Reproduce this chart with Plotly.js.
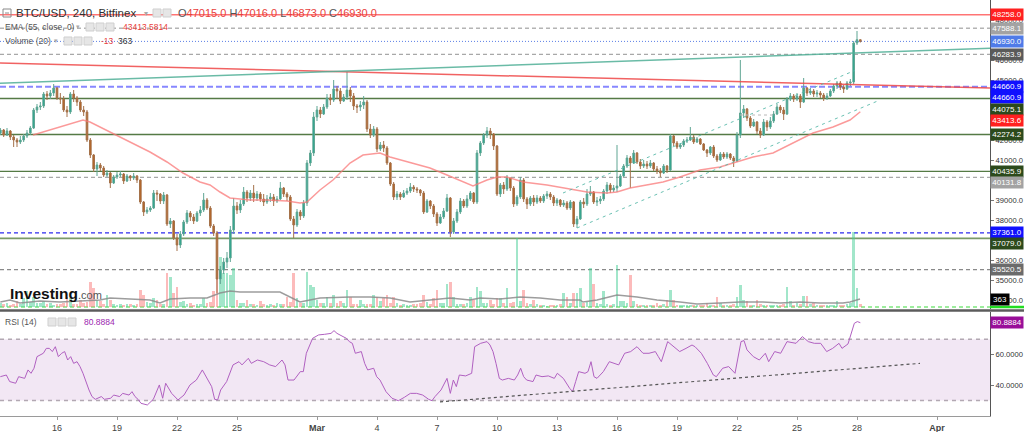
<!DOCTYPE html>
<html>
<head>
<meta charset="utf-8">
<script src="https://cdn.plot.ly/plotly-3.0.1.min.js"></script>
<style>
html,body{margin:0;padding:0;background:#ffffff;overflow:hidden;}
#chart{width:1024px;height:432px;}
</style>
</head>
<body>
<div id="chart"></div>
<script>
// ================= DATA =================
const startUTC = Date.UTC(2022, 1, 13, 4, 0, 0); // first 4h candle: 13 Feb 2022 04:00
const firstOpen = 42350;
const closes = [
 42500,42250,42450,42150,42000,
 41900,42000,42200,42350,42600,43500,
 43650,43700,44300,44200,44350,44600,
 44100,44050,43500,43400,44300,44100,
 43900,43500,43400,42000,41250,40550,
 40750,40600,40250,40350,39850,40150,
 40250,40300,39950,40200,40100,40200,
 40000,38900,38400,38500,38600,39350,
 39300,38950,39250,37800,37950,37100,
 36750,37300,37900,38350,38150,37950,
 38350,38500,39000,38600,37700,37350,
 35050,35500,35900,36100,37500,38700,
 38500,38800,39400,39100,39350,39100,
 39300,39050,38900,39050,39150,38950,
 39050,39600,39300,39150,38050,37750,
 38400,38200,38850,40850,41350,43150,
 43500,43300,43650,44100,44000,44550,
 44450,43950,44150,44500,44200,43700,
 43650,43750,43900,42550,42250,42550,
 41550,41750,41600,40850,39800,39150,
 39300,39150,39350,39450,39650,39550,
 39500,39350,38400,38950,38700,38300,
 37850,38150,38450,39100,37400,37950,
 38400,38950,38700,39050,39350,38900,
 41350,41850,42250,42450,42300,41700,
 39300,39750,39550,40100,39600,38800,
 39150,40000,39050,38800,39100,38900,
 39100,38950,39200,39300,39150,38850,
 39000,38750,38850,38600,38900,37800,
 38050,38900,38800,39300,39400,38900,
 38950,39050,39450,39750,39500,39600,
 39700,40200,40700,41100,40850,41350,
 40900,40700,40800,40700,40850,40550,
 40450,40350,40700,40500,42200,41850,
 41650,41750,41950,42000,42150,41900,
 42050,41800,41500,41350,41650,41200,
 41000,41300,41150,41300,41100,40950,
 42250,43350,43550,43100,42700,42900,
 42450,42250,42900,42650,42950,43300,
 43650,43500,43300,44050,44200,44050,
 44200,43900,44600,44350,44450,44300,
 44350,44250,44100,44200,44450,44700,
 44850,44650,44550,44850,44900,46850,
 47015,46930
];
const highs = [
 42600,42550,42600,42500,42250,
 42100,42200,42300,42500,42700,43600,
 43800,43900,44400,44450,44500,44800,
 44650,44350,44200,43700,44400,44500,
 44200,44000,43700,43500,42100,41300,
 40900,40850,40700,40500,40400,40250,
 40400,40450,40350,40300,40250,40350,
 40250,40050,38950,38650,38700,39500,
 39500,39350,39400,39300,38100,38000,
 37300,37450,38000,38500,38450,38300,
 38450,38700,39350,39100,38700,37800,
 37450,35700,36100,36400,37700,39100,
 38900,39000,39650,39500,39500,39750,
 39450,39400,39300,39250,39350,39300,
 39200,39900,39650,39400,39250,38200,
 38550,38500,39000,41000,41500,43400,
 43700,43650,43800,44300,44300,45000,
 44700,44600,44300,45400,44650,44350,
 43800,43950,44200,44000,42800,42700,
 42650,41900,41950,41700,40900,39900,
 39450,39400,39500,39600,39850,39750,
 39650,39550,39450,39050,39000,38800,
 38400,38300,38600,39300,39150,38100,
 38550,39100,39050,39250,39450,39400,
 41500,41950,42350,42650,42600,42350,
 41750,39850,39900,40250,40100,39700,
 39250,40150,40100,39150,39200,39250,
 39250,39200,39300,39450,39400,39250,
 39100,39050,39000,38950,39000,38950,
 38200,39000,39100,39550,39700,39450,
 39150,39200,39550,39900,39850,39750,
 41750,40300,40800,41250,41200,41500,
 41400,41050,41000,40950,41000,40900,
 40700,40600,40800,40750,42300,42250,
 41950,41850,42050,42150,42650,42250,
 42150,42100,41850,41550,41700,41750,
 41300,41400,41400,41400,41350,41200,
 42400,46000,43750,43600,43200,43050,
 42950,42600,43050,43000,43150,43450,
 43800,43750,43650,44150,44350,44300,
 44350,44300,45100,44650,44600,44550,
 44500,44450,44350,44350,44550,44800,
 44950,44950,44750,44950,45050,46950,
 47450,47016
];
const lows = [
 42250,42150,42200,42000,41650,
 41650,41800,41900,42100,42250,42550,
 43350,43500,43600,44000,44050,44200,
 44000,43800,43400,43150,43300,43900,
 43700,43400,43200,41900,41100,40400,
 40200,40450,40150,40150,39600,39800,
 40050,40150,39800,39900,39950,40000,
 39850,38800,38200,38300,38400,38550,
 38950,38800,38800,37700,37600,37000,
 36450,36600,37200,37800,37950,37800,
 37900,38200,38400,38500,37600,37200,
 34350,34800,35300,35600,35900,37300,
 38300,38350,38700,38900,38950,38900,
 38950,38900,38700,38800,38900,38700,
 38850,39000,39150,38950,37950,37100,
 37650,38000,38100,38700,40700,41200,
 42950,43100,43250,43550,43750,43900,
 44050,43800,43900,44000,43900,43500,
 43350,43450,43550,42400,42100,42150,
 41400,41450,41400,40750,39700,39000,
 39000,39000,39100,39250,39350,39400,
 39350,39200,38300,38350,38550,38150,
 37700,37800,38050,38400,37150,37300,
 37850,38300,38600,38600,38950,38800,
 38800,41200,41750,42100,42050,41500,
 39200,39150,39300,39450,39450,38650,
 38700,39050,38900,38550,38700,38700,
 38800,38850,38850,39050,39000,38700,
 38700,38650,38650,38500,38500,37650,
 37600,38000,38600,38700,39200,38800,
 38700,38800,38950,39300,39350,39400,
 39400,39650,40150,40600,39600,40800,
 40800,40550,40600,40550,40600,40450,
 40300,40150,40300,40350,40450,41700,
 41550,41550,41650,41850,41950,41800,
 41850,41750,41450,41150,41250,41100,
 40900,40950,41050,41050,41000,40650,
 40900,42100,43100,42950,42600,42650,
 42300,42100,42200,42450,42550,42850,
 43250,43350,43000,43250,43950,43900,
 43950,43600,43850,44200,44250,44150,
 44150,44100,43950,44000,44150,44350,
 44550,44500,44350,44500,44700,44800,
 46750,46873
];
const volumes = [
 450,360,450,300,390,690,420,1080,1890,600,
 1200,540,450,690,360,450,300,390,330,480,
 1200,1080,420,360,840,510,600,3030,2250,900,
 690,420,1440,840,360,300,330,270,390,360,
 300,330,2040,1440,600,450,1080,840,420,360,
 4050,3600,1650,2400,600,690,390,450,300,360,
 420,1080,480,600,1890,4410,6000,4050,4050,3840,
 4650,900,540,480,840,390,360,300,690,330,
 270,360,300,450,330,390,1200,600,4050,1080,
 540,480,4200,2610,2400,840,510,450,1200,540,
 1440,480,690,450,2040,1200,390,360,840,330,
 390,360,1440,1200,690,1080,1440,540,1200,450,
 300,330,270,300,360,330,450,1440,600,420,
 1080,2040,540,480,2790,3030,1200,420,360,390,
 450,1200,840,2400,1890,540,450,840,390,1080,
 1080,450,2250,450,600,8250,690,2040,480,360,
 840,330,270,300,150,240,270,300,360,1650,
 1200,450,1650,1650,2250,480,600,4650,2790,450,
 390,1890,360,300,420,5040,690,690,480,3840,
 690,360,300,270,240,300,270,450,300,330,
 840,2040,840,300,270,240,270,300,240,270,
 240,300,450,240,300,1200,540,270,300,240,
 330,1200,2640,840,690,300,270,840,330,240,
 270,300,240,270,300,360,2430,690,300,540,
 330,1320,1320,360,450,270,240,270,300,240,
 270,690,300,270,360,450,9030,2250,363
];
// EMA(55) (candle index, value)
const emaIdx = [9.8,14.9,20,24.8,26.9,29.9,35,39.8,44.9,50,54.8,59.9,62.9,65.9,68.9,74.9,80,86,89.9,92,95.9,99.8,101.9,104.9,108.8,113.9,116.9,123.8,128.9,134,138.8,141.8,146,149,152,156.8,164,168.8,176,182,185,188.9,194,198.8,203.9,209.9,215.9,221,225.8,231.8,237.8,243.8,249.8,254.9,258];
const emaVal = [42250,42500,42750,43000,42900,42650,42250,41850,41400,40900,40350,39900,39750,39400,39100,39000,39000,38950,38850,38900,39500,40000,40350,40850,41250,41350,41150,40850,40600,40250,39900,39700,40000,40150,40150,39900,39750,39600,39400,39350,39400,39600,39750,39900,40150,40500,40650,40900,41150,41350,41850,42350,42650,43000,43413.58];
// Volume MA(20)
const volMaIdx = [0,2.9,5.9,11.9,17.9,23.9,29.9,32.9,38.9,44.9,47.9,50.9,56.9,62,65.9,68.9,71.9,77.9,83.9,86.9,89.9,92.9,95.9,104.9,110.9,116.9,122.9,128.9,134.9,140.9,143.9,149.9,155.9,161.9,167.9,173.9,174.8,179,185,191,197,203.9,209,215.9,221.9,228.8,233.9,239.9,245.9,252.8,254.9,257.9];
const volMaVal = [600,840,480,720,600,720,840,1080,960,840,480,960,1080,1080,1680,1920,1800,1800,1800,1200,600,840,1080,1200,1200,1080,600,840,1080,840,1080,960,1200,1080,840,840,600,840,1440,1200,840,600,360,480,600,600,480,600,480,480,600,960];
// RSI(14)
const rsiIdx = [0,1.8,2.8,4.6,5.5,7.3,8.3,9.2,10.1,11,12.9,13.8,14.7,15.6,16.5,17.4,18.4,19.3,20.2,21.1,22,23,23.9,24.8,26.6,27.5,28.5,30.3,31.2,33.1,34,35.8,36.7,38.6,39.5,40.4,41.3,42.2,44.1,45.9,47.7,48.7,49.6,51.4,53.3,55.1,56.9,58.8,60.6,61.5,63.4,64.3,65.2,66.1,67.9,69.8,71.6,72.5,74.4,75.3,77.1,79,80.8,82.6,84.5,85.4,86.3,88.1,90,90.9,91.8,93.7,95.5,97.3,99.2,100.1,101,102.8,103.8,104.7,105.6,106.5,108.3,109.3,110.2,112,112.9,113.9,114.8,115.7,117.5,119.4,121.2,123,124.9,126.7,128.5,129.5,130.4,132.2,134,135,135.9,136.8,137.7,139.6,141.4,142.3,144.1,146,146.9,147.8,148.7,149.7,150.6,152.4,154.2,155.2,156.1,157,157.9,159.8,160.7,162.5,164.4,166.2,167.1,168.9,170.8,171.7,172.6,173.5,175.4,176.3,177.2,178.1,179,180.9,182.7,184.5,185.5,187.3,189.1,191,192.8,194.6,196.5,197.4,198.3,200.2,202,203.8,205.7,207.5,208.4,210.3,212.1,213.9,214.8,216.7,218.5,220.4,222.2,223.1,224,225.9,227.7,229.5,230.5,232.3,234.1,236,238.7,240.6,242.4,244.2,246.1,247.9,249.7,251.6,252.5,254.3,256.2,257.1,258];
const rsiVal = [45.6,46.7,42.4,41.3,45.6,44.5,50.0,47.8,51.1,58.7,60.9,64.1,64.1,62.0,65.2,58.7,60.9,62.0,56.5,58.7,54.3,55.4,52.2,47.8,36.9,32.6,30.8,32.6,30.8,31.5,33.6,32.6,34.7,33.6,35.8,32.6,30.8,28.2,27.1,30.8,40.2,31.5,41.3,34.7,30.4,33.6,40.2,43.4,50.0,46.7,39.1,30.8,30.4,36.9,42.4,53.3,55.4,53.3,57.6,54.3,56.5,55.4,53.3,52.2,56.5,53.3,43.4,43.4,48.9,48.9,60.9,70.7,72.9,73.3,73.9,75.7,73.9,71.8,70.7,68.5,67.4,60.9,62.0,54.3,50.0,51.1,45.6,43.4,39.1,35.8,31.5,29.9,32.1,34.7,34.7,33.6,30.8,29.9,32.6,36.9,44.5,34.7,43.4,39.1,46.7,46.1,47.8,65.2,67.4,68.5,66.3,62.0,54.3,44.5,43.4,44.5,43.4,46.7,51.1,45.6,43.4,42.4,46.7,45.6,46.1,44.5,47.8,44.5,38.0,35.8,42.4,48.9,47.8,48.9,55.4,45.6,44.5,48.9,55.4,54.3,53.3,60.9,62.0,65.2,60.9,60.9,62.0,58.7,55.4,68.5,65.2,62.0,64.1,66.3,65.2,60.9,54.3,46.7,45.6,51.1,52.2,47.8,68.5,69.2,63.1,58.7,56.5,60.9,55.4,62.0,60.9,68.5,67.4,71.8,68.5,67.4,67.4,62.0,64.1,67.4,64.1,67.0,80.5,81.6,80.8884];

const xTickDates = ['2022-02-16','2022-02-19','2022-02-22','2022-02-25','2022-03-01','2022-03-04','2022-03-07','2022-03-10','2022-03-13','2022-03-16','2022-03-19','2022-03-22','2022-03-25','2022-03-28','2022-04-01'];
const xTickLabels = ['16','19','22','25','<b>Mar</b>','4','7','10','13','16','19','22','25','28','<b>Apr</b>'];
const priceTicks = [34000,35000,36000,37000,38000,39000,40000,41000,42000,43000,44000,45000,46000,47000,48000];
const rsiTicks = [40, 60];

// horizontal drawn levels
const levelPrices = [48258.0, 47588.1, 46930.0, 46283.9, 44660.9, 44075.1, 42274.2, 40435.9, 40131.8, 37361.0, 37079.0, 35520.5];
// price-scale labels
const labelPrices = [48258.0, 47588.1, 46930.0, 46283.9, 44660.9, 44660.9, 44075.1, 43413.6, 42274.2, 40435.9, 40131.8, 37361.0, 37079.0, 35520.5];
// trend lines: [candle index, price]
const lineRed = [[-0.1, 45850], [296.9, 44600]];
const lineTeal = [[-0.1, 44835], [296.9, 46590]];
const channelUpper = [[168.8, 39350], [256.4, 45480]];
const channelLower = [[173.0, 37600], [263.9, 44000]];
const shortDash = [[221.9, 43250], [231.8, 43250]];
const rsiTrend = [[131.9, 29.1], [275.9, 54.3]];

const legendOHLC = {O: '47015.0', H: '47016.0', L: '46873.0', C: '46930.0'};
const emaLegend = '43413.5814';
const volLegend = ['-13', '363'];
const rsiLegend = '80.8884';

// ================= BUILD =================
const H4 = 4 * 3600 * 1000;
function tAt(idx) {
  return new Date(startUTC + idx * H4).toISOString().replace('T', ' ').slice(0, 19);
}
const n = closes.length;
const times = [], opens = [];
for (let i = 0; i < n; i++) {
  times.push(tAt(i));
  opens.push(i === 0 ? firstOpen : closes[i - 1]);
}
const volColors = closes.map((c, i) => c >= opens[i] ? 'rgba(70,205,150,0.5)' : 'rgba(250,120,120,0.5)');

const PLOT_H = 416, PLOT_W = 990;
const MAIN_BOTTOM_PX = 309;
const mainDomain = [(PLOT_H - MAIN_BOTTOM_PX) / PLOT_H, 1];
const rsiDomain = [0, (PLOT_H - 311.5) / PLOT_H];
const priceRange = [33550, 49000];
const volRange = [-240, 36840];
const rsiRange = [19.9, 88.2];
const px = x => x / PLOT_W;
const py = y => (PLOT_H - y) / PLOT_H;

const traces = [
  { type: 'bar', x: times, y: volumes, xaxis: 'x', yaxis: 'y',
    marker: { color: volColors, line: { width: 0 } }, width: H4 * 0.8, hoverinfo: 'skip' },
  { type: 'scatter', mode: 'lines', x: volMaIdx.map(tAt), y: volMaVal, xaxis: 'x', yaxis: 'y',
    line: { color: 'rgba(140,140,140,0.85)', width: 1.5 }, hoverinfo: 'skip' },
  { type: 'scatter', mode: 'lines', x: emaIdx.map(tAt), y: emaVal, xaxis: 'x', yaxis: 'y3',
    line: { color: 'rgba(250,120,120,0.75)', width: 1.5 }, hoverinfo: 'skip' },
  { type: 'candlestick', x: times, open: opens, high: highs, low: lows, close: closes,
    xaxis: 'x', yaxis: 'y3', whiskerwidth: 0, hoverinfo: 'skip',
    increasing: { line: { color: '#5fa593', width: 1 }, fillcolor: '#22a68e' },
    decreasing: { line: { color: '#a4714a', width: 1 }, fillcolor: '#b8621f' } },
  { type: 'scatter', mode: 'lines', x: rsiIdx.map(tAt), y: rsiVal, xaxis: 'x', yaxis: 'y2',
    line: { color: '#b060c0', width: 1 }, hoverinfo: 'skip' }
];

const levelStyles = [
  { color: '#ff3030', width: 1, dash: 'solid' },
  { color: '#b4b4b4', width: 1.3, dash: '4px,3px' },
  { color: '#5b7fe6', width: 1, dash: '1px,2px' },
  { color: '#a8a8a8', width: 1.3, dash: '4px,3px' },
  { color: 'rgba(105,105,255,0.8)', width: 2, dash: '6px,3px' },
  { color: '#557a45', width: 1.3, dash: 'solid' },
  { color: '#557a45', width: 1.3, dash: 'solid' },
  { color: '#557a45', width: 1.3, dash: 'solid' },
  { color: '#a8a8a8', width: 1.3, dash: '4px,3px' },
  { color: '#2b2bee', width: 1.2, dash: '4px,3px' },
  { color: '#7a9a68', width: 1.8, dash: 'solid' },
  { color: '#8a8a8a', width: 1.2, dash: '4px,3px' }
];
const shapes = [];
// RSI band
shapes.push({ type: 'rect', xref: 'paper', yref: 'y2', x0: 0, x1: 1, y0: 30, y1: 70,
  fillcolor: 'rgba(155,70,170,0.13)', line: { width: 0 }, layer: 'below' });
[30, 70].forEach(v => shapes.push({ type: 'line', xref: 'paper', yref: 'y2', x0: 0, x1: 1, y0: v, y1: v,
  line: { color: '#b2a8b2', width: 1.5, dash: '4px,4px' }, layer: 'below' }));
// levels
levelPrices.forEach((p, i) => shapes.push({ type: 'line', xref: 'paper', yref: 'y3', x0: 0, x1: 1, y0: p, y1: p,
  line: levelStyles[i], layer: 'below' }));
// volume zero line (green dashed) + green stub in scale
shapes.push({ type: 'line', xref: 'paper', yref: 'y', x0: 0, x1: 1, y0: 0, y1: 0,
  line: { color: '#3cdc3c', width: 1.2, dash: '4px,3px' }, layer: 'below' });
shapes.push({ type: 'line', xref: 'paper', yref: 'y', x0: 1, x1: 1024 / PLOT_W, y0: 0, y1: 0,
  line: { color: '#22dd22', width: 2.5 } });
function seg(pts, yref, style) {
  shapes.push({ type: 'line', xref: 'x', yref: yref, x0: tAt(pts[0][0]), y0: pts[0][1], x1: tAt(pts[1][0]), y1: pts[1][1], line: style });
}
seg(lineRed, 'y3', { color: 'rgba(238,70,70,0.85)', width: 1.5 });
seg(lineTeal, 'y3', { color: 'rgba(80,175,150,0.85)', width: 1.5 });
seg(channelUpper, 'y3', { color: 'rgba(90,185,170,0.9)', width: 1, dash: '3px,4px' });
seg(channelLower, 'y3', { color: 'rgba(90,185,170,0.9)', width: 1, dash: '3px,4px' });
seg(shortDash, 'y3', { color: '#b8b8b8', width: 1, dash: '3px,3px' });
seg(rsiTrend, 'y2', { color: '#555555', width: 1.2, dash: '3px,3px' });
// panel separator
shapes.push({ type: 'line', xref: 'paper', yref: 'paper', x0: 0, x1: 1024 / PLOT_W, y0: py(310.5), y1: py(310.5),
  line: { color: '#5c5c5c', width: 2.5 } });
// legend icon boxes
function iconBox(x, y) {
  shapes.push({ type: 'rect', xref: 'paper', yref: 'paper', x0: px(x), x1: px(x + 8), y0: py(y + 4), y1: py(y - 4),
    fillcolor: '#e6e6e6', line: { color: '#cfcfcf', width: 1 } });
}
shapes.push({ type: 'rect', xref: 'paper', yref: 'paper', x0: px(3), x1: px(11), y0: py(17), y1: py(9),
  fillcolor: 'rgba(0,0,0,0)', line: { color: '#8a8a8a', width: 1 } });
shapes.push({ type: 'line', xref: 'paper', yref: 'paper', x0: px(5), x1: px(9), y0: py(13), y1: py(13),
  line: { color: '#8a8a8a', width: 1 } });
[153, 163].forEach(x => iconBox(x, 13));
[86, 96, 106].forEach(x => iconBox(x, 27));
[64, 74, 84].forEach(x => iconBox(x, 41));
[48, 58, 68].forEach(x => iconBox(x, 322));

const FONT = 'Liberation Sans, Arial, sans-serif';
const annotations = [];
function txt(x, y, text, size, color, extra) {
  annotations.push(Object.assign({ xref: 'paper', yref: 'paper', x: px(x), y: py(y), xanchor: 'left', yanchor: 'middle',
    text: text, showarrow: false, font: { family: FONT, size: size, color: color } }, extra || {}));
}
const red = '#e8413c';
txt(14, 13, 'BTC/USD, 240, Bitfinex', 11.5, '#2f2f2f');
txt(142, 13, '▾', 8, '#aaaaaa');
txt(176, 13, 'O<span style="color:' + red + '">' + legendOHLC.O + '</span> H<span style="color:' + red + '">' + legendOHLC.H +
  '</span> L<span style="color:' + red + '">' + legendOHLC.L + '</span> C<span style="color:' + red + '">' + legendOHLC.C + '</span>', 11, '#555555');
txt(3, 27, 'EMA (55, close, 0)', 8.5, '#555555');
txt(74, 27, '▾', 7, '#aaaaaa');
txt(121, 27, emaLegend, 8.5, red);
txt(3, 41, 'Volume (20)', 8.5, '#555555');
txt(52, 41, '▾', 7, '#aaaaaa');
txt(99, 41, volLegend[0], 8.5, red);
txt(116, 41, volLegend[1], 8.5, '#333333');
txt(3, 322, 'RSI (14)', 8.5, '#555555');
txt(82, 322, rsiLegend, 8.5, '#9c27b0');
txt(8, 293, '<b>Investing</b><span style="font-size:11px;color:#555">.com</span>', 15.5, '#111111');

// price scale labels with collision stacking
const labelColors = ['#ff2020', '#a3a3a3', '#4f7be8', '#5a5a5a', '#1010ff', '#1010ff', '#2c4a1c', '#ff2020', '#2c4a1c', '#2c4a1c', '#a3a3a3', '#1010ff', '#2c4a1c', '#6b6b6b'];
const pxPerPrice = MAIN_BOTTOM_PX / (priceRange[1] - priceRange[0]);
let lastY = -100;
labelPrices.map((p, i) => ({ p, i, y: (priceRange[1] - p) * pxPerPrice }))
  .sort((a, b) => a.y - b.y)
  .forEach(o => {
    const yDraw = Math.max(o.y, lastY + 11.2);
    lastY = yDraw;
    annotations.push({ xref: 'paper', yref: 'y3', x: 1, y: o.p, yshift: -(yDraw - o.y), xanchor: 'left', yanchor: 'middle',
      text: o.p.toFixed(1), showarrow: false, bgcolor: labelColors[o.i], width: 31, height: 10, borderpad: 0.5,
      font: { family: FONT, size: 8, color: '#ffffff' } });
  });
// volume value label
annotations.push({ xref: 'paper', yref: 'paper', x: 1, y: py(299.5), xanchor: 'left', yanchor: 'middle',
  text: volLegend[1], showarrow: false, bgcolor: '#000000', width: 17, height: 10, borderpad: 0.5,
  font: { family: FONT, size: 8, color: '#ffffff' } });
// RSI value label
annotations.push({ xref: 'paper', yref: 'y2', x: 1, y: rsiVal[rsiVal.length - 1], xanchor: 'left', yanchor: 'middle',
  text: rsiLegend, showarrow: false, bgcolor: '#990f99', width: 31, height: 10, borderpad: 0.5,
  font: { family: FONT, size: 8, color: '#ffffff' } });

const layout = {
  width: 1024, height: 432,
  margin: { l: 0, r: 34, t: 0, b: 16, pad: 0 },
  paper_bgcolor: '#ffffff', plot_bgcolor: '#ffffff',
  showlegend: false, hovermode: false, bargap: 0,
  xaxis: { type: 'date', range: [tAt(-0.1), tAt(296.9)], anchor: 'y2', domain: [0, 1],
    rangeslider: { visible: false }, showgrid: false, zeroline: false,
    showline: true, linecolor: '#9a9a9a', linewidth: 1, mirror: false,
    ticks: 'outside', ticklen: 3, tickcolor: '#9a9a9a',
    tickmode: 'array', tickvals: xTickDates, ticktext: xTickLabels,
    tickfont: { family: FONT, size: 9, color: '#444444' }, fixedrange: true },
  yaxis: { domain: mainDomain, range: volRange, visible: false, fixedrange: true, anchor: 'x' },
  yaxis3: { domain: mainDomain, range: priceRange, overlaying: 'y', side: 'right', anchor: 'x',
    showgrid: false, zeroline: false, showline: true, linecolor: '#555555', linewidth: 1,
    ticks: 'outside', ticklen: 3, tickcolor: '#777777',
    tickmode: 'array', tickvals: priceTicks, tickformat: '.1f',
    tickfont: { family: FONT, size: 7.6, color: '#333333' }, fixedrange: true },
  yaxis2: { domain: rsiDomain, range: rsiRange, side: 'right', anchor: 'x',
    showgrid: false, zeroline: false, showline: true, linecolor: '#555555', linewidth: 1,
    ticks: 'outside', ticklen: 3, tickcolor: '#777777',
    tickmode: 'array', tickvals: rsiTicks, tickformat: '.4f',
    tickfont: { family: FONT, size: 7.6, color: '#333333' }, fixedrange: true },
  shapes: shapes,
  annotations: annotations
};

Plotly.newPlot('chart', traces, layout, { staticPlot: true, displayModeBar: false });
</script>
</body>
</html>
